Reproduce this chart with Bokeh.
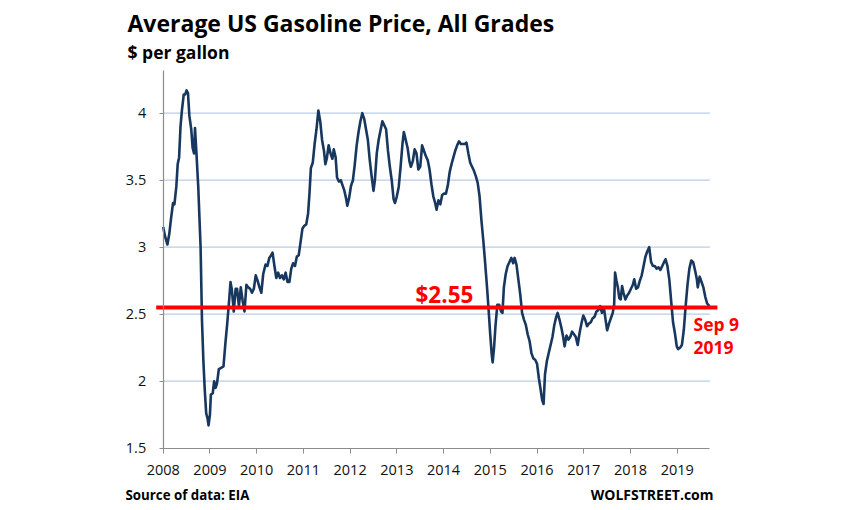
from bokeh.plotting import figure
from bokeh.models import Label, FixedTicker, ColumnDataSource, LinearAxis
from bokeh.embed import file_html
from bokeh.resources import INLINE

# ---- data (decimal year, $ per gallon) ----
dates = [
    2008.00, 2008.04, 2008.09, 2008.13, 2008.17, 2008.21, 2008.24, 2008.28, 2008.31, 2008.34,
    2008.37, 2008.40, 2008.44, 2008.47, 2008.50, 2008.53, 2008.56, 2008.60, 2008.63, 2008.66,
    2008.68, 2008.71, 2008.75, 2008.78, 2008.80, 2008.83, 2008.86, 2008.89, 2008.92, 2008.95,
    2008.97, 2009.00, 2009.02, 2009.06, 2009.09, 2009.12, 2009.15, 2009.19, 2009.24, 2009.29,
    2009.33, 2009.37, 2009.41, 2009.44, 2009.47, 2009.51, 2009.55, 2009.58, 2009.62, 2009.66,
    2009.70, 2009.74, 2009.78, 2009.82, 2009.86, 2009.90, 2009.94, 2009.98, 2010.02, 2010.06,
    2010.10, 2010.14, 2010.19, 2010.23, 2010.27, 2010.31, 2010.34, 2010.38, 2010.42, 2010.46,
    2010.50, 2010.54, 2010.58, 2010.62, 2010.66, 2010.70, 2010.74, 2010.78, 2010.82, 2010.86,
    2010.90, 2010.94, 2010.98, 2011.02, 2011.06, 2011.10, 2011.13, 2011.16, 2011.20, 2011.24,
    2011.28, 2011.32, 2011.36, 2011.40, 2011.44, 2011.47, 2011.50, 2011.54, 2011.58, 2011.62,
    2011.65, 2011.69, 2011.72, 2011.76, 2011.80, 2011.84, 2011.87, 2011.91, 2011.94, 2011.98,
    2012.02, 2012.06, 2012.10, 2012.14, 2012.18, 2012.22, 2012.26, 2012.30, 2012.34, 2012.38,
    2012.42, 2012.46, 2012.50, 2012.53, 2012.57, 2012.61, 2012.65, 2012.69, 2012.73, 2012.77,
    2012.81, 2012.85, 2012.89, 2012.93, 2012.96, 2013.00, 2013.04, 2013.08, 2013.12, 2013.15,
    2013.19, 2013.23, 2013.27, 2013.30, 2013.34, 2013.38, 2013.42, 2013.46, 2013.50, 2013.54,
    2013.58, 2013.62, 2013.66, 2013.70, 2013.74, 2013.78, 2013.82, 2013.85, 2013.89, 2013.93,
    2013.97, 2014.01, 2014.05, 2014.09, 2014.13, 2014.17, 2014.21, 2014.25, 2014.29, 2014.33,
    2014.37, 2014.41, 2014.45, 2014.49, 2014.53, 2014.57, 2014.61, 2014.65, 2014.69, 2014.73,
    2014.77, 2014.81, 2014.85, 2014.89, 2014.93, 2014.96, 2015.00, 2015.03, 2015.05, 2015.08,
    2015.11, 2015.15, 2015.19, 2015.23, 2015.26, 2015.29, 2015.33, 2015.37, 2015.41, 2015.45,
    2015.49, 2015.52, 2015.56, 2015.60, 2015.64, 2015.68, 2015.72, 2015.76, 2015.80, 2015.84,
    2015.88, 2015.92, 2015.96, 2016.00, 2016.04, 2016.08, 2016.11, 2016.14, 2016.17, 2016.21,
    2016.25, 2016.29, 2016.33, 2016.37, 2016.41, 2016.44, 2016.48, 2016.52, 2016.56, 2016.59,
    2016.63, 2016.67, 2016.71, 2016.75, 2016.79, 2016.83, 2016.87, 2016.91, 2016.95, 2016.99,
    2017.03, 2017.07, 2017.11, 2017.15, 2017.19, 2017.23, 2017.27, 2017.31, 2017.35, 2017.39,
    2017.43, 2017.47, 2017.50, 2017.54, 2017.58, 2017.62, 2017.65, 2017.67, 2017.70, 2017.73,
    2017.76, 2017.79, 2017.82, 2017.85, 2017.89, 2017.93, 2017.97, 2018.01, 2018.05, 2018.08,
    2018.12, 2018.16, 2018.20, 2018.24, 2018.28, 2018.32, 2018.36, 2018.40, 2018.44, 2018.48,
    2018.52, 2018.56, 2018.60, 2018.64, 2018.68, 2018.72, 2018.75, 2018.79, 2018.83, 2018.87,
    2018.91, 2018.95, 2018.99, 2019.02, 2019.06, 2019.10, 2019.14, 2019.18, 2019.22, 2019.26,
    2019.30, 2019.34, 2019.38, 2019.42, 2019.44, 2019.48, 2019.52, 2019.56, 2019.60, 2019.64,
    2019.69,
]
prices = [
    3.15, 3.08, 3.02, 3.10, 3.22, 3.33, 3.32, 3.45, 3.62, 3.67,
    3.90, 4.02, 4.14, 4.14, 4.17, 4.15, 3.98, 3.88, 3.74, 3.70,
    3.89, 3.71, 3.45, 3.18, 3.00, 2.45, 2.15, 1.93, 1.76, 1.72,
    1.67, 1.75, 1.90, 1.91, 2.00, 1.95, 1.98, 2.09, 2.10, 2.11,
    2.28, 2.43, 2.60, 2.74, 2.68, 2.52, 2.69, 2.69, 2.56, 2.70,
    2.60, 2.52, 2.72, 2.70, 2.69, 2.66, 2.69, 2.79, 2.75, 2.70,
    2.66, 2.80, 2.87, 2.86, 2.92, 2.94, 2.96, 2.86, 2.77, 2.81,
    2.77, 2.79, 2.76, 2.81, 2.74, 2.74, 2.84, 2.88, 2.86, 2.93,
    2.94, 3.04, 3.14, 3.16, 3.17, 3.25, 3.40, 3.59, 3.63, 3.77,
    3.88, 4.02, 3.94, 3.80, 3.72, 3.62, 3.66, 3.76, 3.70, 3.66,
    3.73, 3.67, 3.52, 3.49, 3.50, 3.46, 3.43, 3.37, 3.31, 3.37,
    3.46, 3.50, 3.62, 3.76, 3.86, 3.94, 4.00, 3.96, 3.88, 3.80,
    3.65, 3.53, 3.42, 3.50, 3.70, 3.80, 3.87, 3.94, 3.91, 3.88,
    3.72, 3.60, 3.50, 3.36, 3.33, 3.38, 3.45, 3.60, 3.77, 3.86,
    3.80, 3.74, 3.64, 3.60, 3.64, 3.73, 3.70, 3.58, 3.60, 3.76,
    3.72, 3.68, 3.65, 3.58, 3.47, 3.38, 3.33, 3.28, 3.35, 3.32,
    3.39, 3.40, 3.40, 3.46, 3.56, 3.62, 3.67, 3.72, 3.76, 3.79,
    3.77, 3.77, 3.77, 3.78, 3.70, 3.63, 3.60, 3.57, 3.53, 3.48,
    3.38, 3.20, 3.05, 2.88, 2.70, 2.55, 2.34, 2.20, 2.14, 2.25,
    2.41, 2.57, 2.57, 2.52, 2.51, 2.70, 2.80, 2.86, 2.89, 2.92,
    2.88, 2.92, 2.87, 2.76, 2.65, 2.51, 2.46, 2.42, 2.35, 2.30,
    2.21, 2.17, 2.16, 2.13, 2.02, 1.93, 1.86, 1.83, 2.05, 2.15,
    2.21, 2.27, 2.33, 2.42, 2.48, 2.51, 2.46, 2.40, 2.33, 2.26,
    2.34, 2.31, 2.33, 2.37, 2.35, 2.33, 2.27, 2.36, 2.43, 2.49,
    2.46, 2.41, 2.43, 2.44, 2.47, 2.48, 2.52, 2.53, 2.56, 2.51,
    2.55, 2.45, 2.38, 2.43, 2.47, 2.51, 2.57, 2.81, 2.75, 2.70,
    2.62, 2.61, 2.71, 2.66, 2.61, 2.64, 2.66, 2.69, 2.72, 2.76,
    2.69, 2.70, 2.75, 2.79, 2.86, 2.93, 2.97, 3.00, 2.89, 2.86,
    2.86, 2.84, 2.85, 2.83, 2.86, 2.89, 2.91, 2.86, 2.76, 2.60,
    2.44, 2.36, 2.26, 2.24, 2.25, 2.27, 2.38, 2.56, 2.72, 2.84,
    2.90, 2.89, 2.83, 2.76, 2.70, 2.78, 2.74, 2.70, 2.63, 2.58,
    2.56,
]

year_ticks = list(range(2008, 2020))
year_labels = [str(y) for y in year_ticks]
price_ticks = [1.5, 2.0, 2.5, 3.0, 3.5, 4.0]
price_labels = ["1.5", "2", "2.5", "3", "3.5", "4"]

latest_price = 2.55
latest_price_label = "$2.55"
latest_date_lines = ["Sep 9", "2019"]

title_text = "Average US Gasoline Price, All Grades"
subtitle_text = "$ per gallon"
source_text = "Source of data: EIA"
brand_text = "WOLFSTREET.com"

# ---- styling / layout ----
FONT = "Open Sans"
NAVY = "#17375e"
RED = "#ff0000"
GRID = "#b9cde5"
AXIS = "#8c8c8c"

X_MIN, X_MAX = 2008.0, 2019.7      # extent of the plot area (axis bounds)
Y_MIN, Y_MAX = 1.5, 4.32

# The frame fills the whole canvas; axes are drawn at fixed locations so that
# titles and notes outside the plot area are not clipped.
p = figure(
    width=850, height=510,
    x_range=(2004.518, 2022.708), y_range=(1.0351, 4.841),
    x_axis_type=None, y_axis_type=None,
    output_backend="svg", toolbar_location=None,
    min_border=0,
)
p.outline_line_color = None
p.background_fill_color = "white"
p.border_fill_color = "white"

# horizontal gridlines across the plot area only
grid_vals = [t for t in price_ticks if t > Y_MIN]
p.segment(x0=[X_MIN] * len(grid_vals), x1=[X_MAX] * len(grid_vals),
          y0=grid_vals, y1=grid_vals, line_color=GRID, line_width=1.2)

# axes
yaxis = LinearAxis(fixed_location=X_MIN, bounds=(Y_MIN, Y_MAX),
                   ticker=FixedTicker(ticks=price_ticks),
                   major_label_overrides={t: l for t, l in zip(price_ticks, price_labels)})
yaxis.axis_line_color = AXIS
yaxis.axis_line_width = 1.2
yaxis.major_tick_line_color = AXIS
yaxis.major_tick_in = 0
yaxis.major_tick_out = 4
yaxis.minor_tick_line_color = None
yaxis.major_label_text_font = FONT
yaxis.major_label_text_font_size = "14.5px"
yaxis.major_label_text_color = "#111111"
yaxis.major_label_standoff = 13
p.add_layout(yaxis, "left")

xaxis = LinearAxis(fixed_location=Y_MIN, bounds=(X_MIN, X_MAX),
                   ticker=FixedTicker(ticks=year_ticks),
                   major_label_overrides={t: l for t, l in zip(year_ticks, year_labels)})
xaxis.axis_line_color = AXIS
xaxis.axis_line_width = 1.2
xaxis.major_tick_line_color = AXIS
xaxis.major_tick_in = 0
xaxis.major_tick_out = 5
xaxis.minor_tick_line_color = None
xaxis.major_label_text_font = FONT
xaxis.major_label_text_font_size = "14.5px"
xaxis.major_label_text_color = "#111111"
xaxis.major_label_standoff = 12
p.add_layout(xaxis, "below")

# price line
src = ColumnDataSource(data=dict(x=dates, y=prices))
p.line("x", "y", source=src, line_color=NAVY, line_width=2.6, line_join="round")

# red level line (extends a little beyond the plot area, like the original)
p.segment(x0=[X_MIN - 0.15], x1=[X_MAX + 0.16], y0=[latest_price], y1=[latest_price],
          line_color=RED, line_width=4)

def lab(text, sx, sy, size, color="black", align="left"):
    p.add_layout(Label(x=sx, y=sy, x_units="screen", y_units="screen", text=text,
                       text_font=FONT, text_font_size=size, text_color=color,
                       text_font_style="bold", text_align=align,
                       text_baseline="middle"))

# screen positions (x from left, y up from the bottom of the 850x510 canvas)
lab(title_text, 127, 488, "23px")
lab(subtitle_text, 127, 459, "17.5px")
lab(latest_price_label, 415, 216, "22.5px", color=RED)
lab(latest_date_lines[0], 693, 187, "17.5px", color=RED)
lab(latest_date_lines[1], 693, 163, "17.5px", color=RED)
lab(source_text, 125, 16, "13.3px")
lab(brand_text, 713, 16, "14px", align="right")

open("out.html", "w").write(file_html(p, INLINE))
